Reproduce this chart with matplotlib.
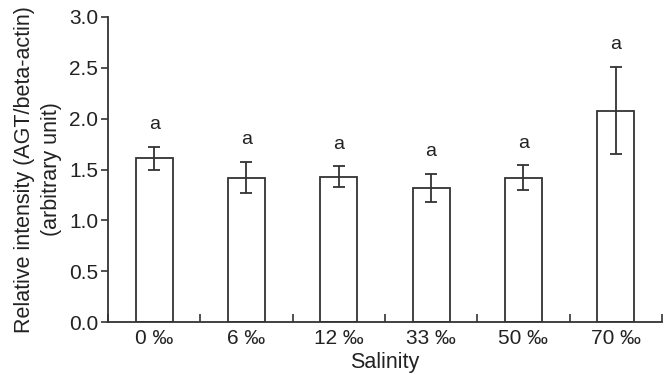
import numpy as np
import matplotlib
matplotlib.use("Agg")
import matplotlib.pyplot as plt

plt.rcParams['font.family'] = ['Liberation Sans', 'DejaVu Sans']

categories = ["0 ‰", "6 ‰", "12 ‰", "33 ‰", "50 ‰", "70 ‰"]
means = [1.61, 1.42, 1.43, 1.32, 1.42, 2.08]
errors = [0.11, 0.15, 0.10, 0.14, 0.12, 0.43]
letters = ["a", "a", "a", "a", "a", "a"]

edge = "#333333"
txt = "#222222"
fig = plt.figure(figsize=(6.69, 3.75), dpi=100)
ax = fig.add_axes([0.1614, 0.1413, 0.828, 0.8134])

x = np.arange(len(categories))
ax.bar(x, means, width=0.4, color="white", edgecolor=edge, linewidth=1.3, zorder=2)
ax.errorbar(x, means, yerr=errors, fmt="none", ecolor=edge, elinewidth=1.3,
            capsize=4, capthick=1.3, zorder=3)
for xi, m, e, lab in zip(x, means, errors, letters):
    ax.annotate(lab, (xi, m + e), xytext=(0, 10), textcoords="offset points",
                ha="center", va="bottom", fontsize=14, color=txt)

ax.set_xlim(-0.5, len(categories) - 0.5)
ax.set_ylim(0, 3.0)
ax.set_yticks(np.arange(0, 3.01, 0.5))
ax.set_yticklabels([f"{v:.1f}" for v in np.arange(0, 3.01, 0.5)])
ax.set_xticks(x)
ax.set_xticklabels(categories)
ax.set_xticks(np.arange(-0.5, len(categories), 1), minor=True)
ax.tick_params(axis="x", which="major", length=0, pad=5, labelsize=15, labelcolor=txt)
ax.tick_params(axis="x", which="minor", direction="in", length=6, width=1.2, color=edge)
ax.tick_params(axis="y", direction="out", length=5, width=1.2, color=edge,
               labelsize=15, labelcolor=txt, pad=2)

for s in ["top", "right"]:
    ax.spines[s].set_visible(False)
for s in ["left", "bottom"]:
    ax.spines[s].set_color(edge)
    ax.spines[s].set_linewidth(1.3)

ax.set_xlabel("Salinity", fontsize=15.5, color=txt, labelpad=3)
ax.set_ylabel("Relative intensity (AGT/beta-actin)\n(arbitrary unit)", fontsize=15.5,
              color=txt, labelpad=5, linespacing=1.4)

fig.savefig("out.png", dpi=100)
